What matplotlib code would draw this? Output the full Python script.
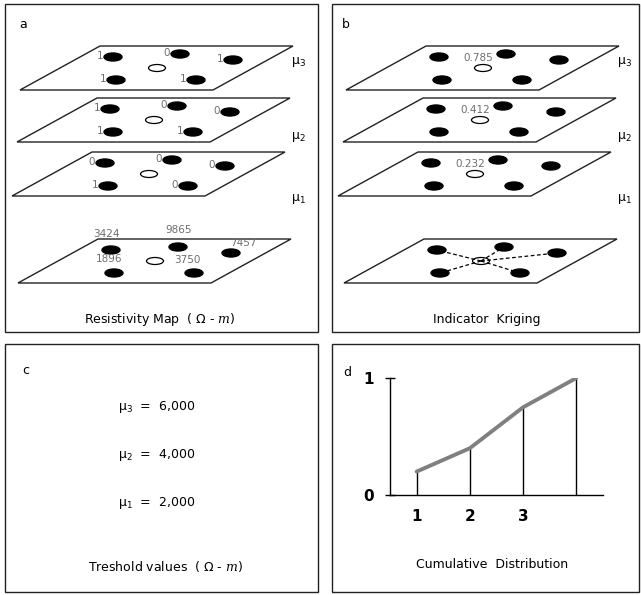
import matplotlib
matplotlib.use("Agg")
import matplotlib.pyplot as plt
from matplotlib.patches import Ellipse, Polygon, Rectangle

plt.rcParams['font.family'] = ['DejaVu Sans']
plt.rcParams['mathtext.fontset'] = 'custom'
plt.rcParams['mathtext.rm'] = 'DejaVu Sans'
plt.rcParams['mathtext.it'] = 'DejaVu Serif:italic'

# data
resistivity = [3424, 9865, 7457, 1896, 3750]   # TL, TM, TR, BL, BM wells
indicator_mu3 = [1, 0, 1, 1, 1]
indicator_mu2 = [1, 0, 0, 1, 1]
indicator_mu1 = [0, 0, 0, 1, 0]
kriged = [0.785, 0.412, 0.232]                   # mu3, mu2, mu1
thresholds = [6000, 4000, 2000]                  # mu3, mu2, mu1
level_names = ['μ$_3$', 'μ$_2$', 'μ$_1$']
cdf_x = [1, 2, 3, 4]
cdf_y = [0.2, 0.4, 0.75, 1.0]
cdf_ticks = ['1', '2', '3']

# layout (pixel space)
W, H = 641, 595
planes = [(100, 46), (97, 98), (92, 152), (98, 239)]   # top-left corners: mu3, mu2, mu1, base
plane_w, plane_skew, plane_h = 193, -80, 44
wells = [(13, 11), (80, 8), (133, 14), (16, 34), (96, 34)]
target = (57, 22)
level_label_y = [62, 137, 199]
panel_shift = 326
grey = '#6e6e6e'

fig = plt.figure(figsize=(W / 100, H / 100), dpi=100)
ax = fig.add_axes([0, 0, 1, 1])
ax.set_xlim(0, W)
ax.set_ylim(H, 0)
ax.axis('off')

# panel frames
for x0, y0, x1, y1 in [(5, 4, 318, 332), (332, 4, 639, 332),
                       (5, 344, 318, 592), (332, 344, 639, 592)]:
    ax.add_patch(Rectangle((x0, y0), x1 - x0, y1 - y0, fill=False, lw=1.0, ec='#222222'))

for letter, (lx, ly) in zip('abcd', [(19, 25), (342, 25), (22, 370), (343, 373)]):
    ax.text(lx, ly, letter, fontsize=9, ha='left', va='center')


def draw_plane(px, py):
    pts = [(px, py), (px + plane_w, py), (px + plane_w + plane_skew, py + plane_h),
           (px + plane_skew, py + plane_h)]
    ax.add_patch(Polygon(pts, closed=True, fill=False, lw=1.0, ec='#222222'))


def draw_wells(px, py):
    for wx, wy in wells:
        ax.add_patch(Ellipse((px + wx, py + wy), 18, 8, fc='black', ec='black'))
    ax.add_patch(Ellipse((px + target[0], py + target[1]), 17, 7, fc='white', ec='black', lw=0.9))


indicators = [indicator_mu3, indicator_mu2, indicator_mu1]

for shift in (0, panel_shift):
    for k, (px, py) in enumerate(planes):
        draw_plane(px + shift, py)
        draw_wells(px + shift, py)
    for name, ly in zip(level_names, level_label_y):
        ax.text(291 + shift, ly, name, fontsize=9, ha='left', va='center')

# panel a: indicator codes
for k in range(3):
    px, py = planes[k]
    for (wx, wy), val in zip(wells, indicators[k]):
        ax.text(px + wx - 10, py + wy - 1, str(val), fontsize=7.5, color=grey,
                ha='right', va='center')

# panel a: measured resistivity
bx, by = planes[3]
offsets = [(-5, -16), (1, -17), (12, -10), (-5, -14), (-7, -13)]
for (wx, wy), (ox, oy), val in zip(wells, offsets, resistivity):
    ax.text(bx + wx + ox, by + wy + oy, str(val), fontsize=7.5, color=grey,
            ha='center', va='center')

# panel b: kriged probabilities
for k in range(3):
    px, py = planes[k]
    px += panel_shift
    ax.text(px + target[0] - 5, py + target[1] - 10, f'{kriged[k]:.3f}', fontsize=7.5,
            color=grey, ha='center', va='center')

# panel b: kriging neighbourhood
bx = planes[3][0] + panel_shift
for wx, wy in wells:
    ax.plot([bx + target[0], bx + wx], [by + target[1], by + wy], ls=(0, (3, 2)),
            color='black', lw=0.9, zorder=1)

ax.text(160, 319, 'Resistivity Map  ( Ω - $m$)', fontsize=9, ha='center', va='center')
ax.text(487, 319, 'Indicator  Kriging', fontsize=9, ha='center', va='center')

# panel c: thresholds
for k, (name, t) in enumerate(zip(level_names, thresholds)):
    ax.text(157, 407 + 48 * k, f'{name}  =  {t:,}', fontsize=9, ha='center', va='center')
ax.text(166, 567, 'Treshold values  ( Ω - $m$)', fontsize=9, ha='center', va='center')

ax.text(492, 565, 'Cumulative  Distribution', fontsize=9, ha='center', va='center')

# panel d: cumulative distribution
x0, x1, y0, y1 = 390, 603, 378, 495
axd = fig.add_axes([x0 / W, (H - y1) / H, (x1 - x0) / W, (y1 - y0) / H])
axd.set_xlim(0.5, 4.5)
axd.set_ylim(0, 1)
axd.patch.set_alpha(0)
for s in ('top', 'right'):
    axd.spines[s].set_visible(False)
axd.spines['left'].set_linewidth(1.0)
axd.spines['bottom'].set_linewidth(1.0)
axd.vlines(cdf_x, 0, cdf_y, color='black', lw=1.0)
axd.plot(cdf_x, cdf_y, color='#808080', lw=2.8, solid_capstyle='round')
axd.set_yticks([0, 1])
axd.set_yticklabels(['0', '1'], fontsize=11, fontweight='bold')
axd.tick_params(axis='y', direction='inout', length=7, width=1.0, pad=8)
axd.set_xticks(cdf_x[:3])
axd.set_xticklabels(cdf_ticks, fontsize=11, fontweight='bold')
axd.tick_params(axis='x', length=0, pad=10)

fig.savefig('out.png', dpi=100)
